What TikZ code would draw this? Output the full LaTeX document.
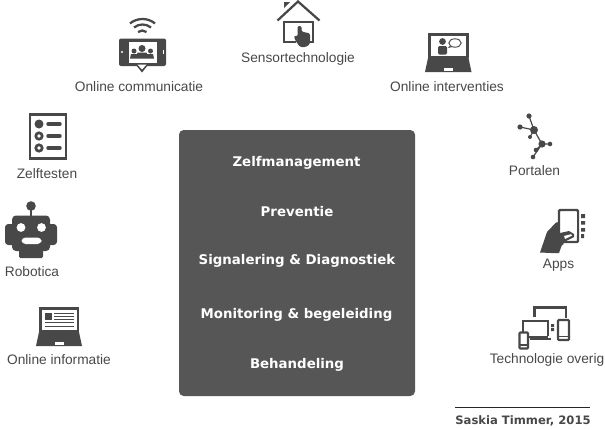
\documentclass[tikz,border=0pt]{standalone}
\usepackage{fontspec}
\setmainfont{Liberation Sans}
\newfontfamily\boldwide{DejaVu Sans Bold}
\definecolor{ink}{HTML}{484848}
\definecolor{boxc}{HTML}{565656}
\tikzset{
 lab/.style={font=\fontsize{10.3pt}{12pt}\selectfont,text=ink,inner sep=0pt,anchor=center},
 head/.style={font=\boldwide\fontsize{10pt}{12pt}\selectfont,text=white,inner sep=0pt,anchor=center},
 ln/.style={draw=ink,line width=1.7pt},
}
\begin{document}
\begin{tikzpicture}[x=0.75pt,y=-0.75pt]
\useasboundingbox (0,0) rectangle (605,429);
% central panel
\node[fill=boxc,rounded corners=3.5pt,minimum width=177pt,minimum height=199.5pt,inner sep=0pt] (panel) at (297,263) {};
\node[head] (h1) at (296.5,163) {Zelfmanagement};
\node[head] (h2) at (297,212) {Preventie};
\node[head] (h3) at (297,260.5) {Signalering \& Diagnostiek};
\node[head] (h4) at (296.5,315) {Monitoring \& begeleiding};
\node[head] (h5) at (297,365) {Behandeling};
% labels
\node[lab] (l1) at (139,86.5) {Online communicatie};
\node[lab] (l2) at (298,58.5) {Sensortechnologie};
\node[lab] (l3) at (447,87) {Online interventies};
\node[lab] (l4) at (47,174) {Zelftesten};
\node[lab] (l5) at (534.5,170.5) {Portalen};
\node[lab] (l6) at (32,272) {Robotica};
\node[lab] (l7) at (558.5,265.5) {Apps};
\node[lab] (l8) at (59,359.5) {Online informatie};
\node[lab] (l9) at (547,360) {Technologie overig};
% signature
\coordinate (s1) at (455,407.5);
\coordinate (s2) at (590,407.5);
\draw[draw=black!85,line width=1.1pt] (s1) -- (s2);
\node[font=\boldwide\fontsize{8.7pt}{10pt}\selectfont,text=ink,inner sep=0pt] (sig) at (523,420.5) {Saskia Timmer, 2015};
% online communicatie icon
\fill[ink,rounded corners=1.5pt] (119,38.5) rectangle (166,66);
\fill[ink] (136,65) -- (148,65) -- (142,72.5) -- cycle;
\fill[white] (129,41.5) rectangle (157,62.5);
\fill[white] (137.5,64.5) -- (146.5,64.5) -- (142,69.5) -- cycle;
\fill[white] (122,52) circle (1.2);
\fill[white] (163,50) rectangle (164,54);
\fill[ink] (142,48.5) circle (3.5) (134,51) circle (2.5) (150.5,51) circle (2.5);
\fill[ink] (130,58.5) -- (131,54) -- (137,54) -- (137.5,52.5) -- (146.5,52.5) -- (147,54) -- (153,54) -- (154,58.5) -- cycle;
\draw[ink,line width=1.7pt] (130,23.5) .. controls (137,17.5) and (148,17.5) .. (155,23.5);
\draw[ink,line width=1.7pt] (134,27.5) .. controls (139,23.5) and (146,23.5) .. (151,27.5);
\draw[ink,line width=1.7pt] (138,32) .. controls (140.5,30) and (144,30) .. (146.5,32);
% house icon
\fill[ink] (284,2) -- (290,2) -- (284,8) -- cycle;
\draw[ln] (277.5,20.5) -- (298,1.5) -- (319.5,20.5);
\draw[ink,line width=2.1pt] (296,42) -- (284,42) -- (284,22) -- (313,22) -- (313,42) -- (309,42);
\fill[ink,rounded corners=1pt] (297.5,26) -- (301.5,26) -- (301.5,31.5) -- (310,33.5) -- (310,44) -- (306,47) -- (300,47) -- (295,40) -- (294,35.5) -- (297.5,36.5) -- cycle;
% laptop interventies
\fill[ink] (428,33) rectangle (468.5,58);
\fill[white] (430.5,35.5) rectangle (466,56);
\fill[ink] (428,58) -- (468.5,58) -- (471.5,72) -- (425,72) -- cycle;
\fill[white] (444,67.5) rectangle (453,70.5);
\fill[ink] (442.5,41.5) circle (3.4);
\fill[ink,rounded corners=1pt] (438,46) rectangle (447,54.5);
\draw[ink,line width=0.7pt,fill=white] (455,43) ellipse (6.2 and 4.2);
\fill[ink] (449.5,46) -- (448,48) -- (452,47) -- cycle;
% portalen
\coordinate (p0) at (529,116); \coordinate (p1) at (520,127); \coordinate (p2) at (534,130);
\coordinate (p3) at (530,137); \coordinate (p4) at (542,144); \coordinate (p5) at (550,144);
\coordinate (p6) at (536,150); \coordinate (p7) at (533,157);
\draw[ink,line width=0.9pt] (p0)--(p2) (p1)--(p2) (p3)--(p2) (p2)--(p4) (p4)--(p5) (p4)--(p6) (p4)--(p7);
\fill[ink] (p0) circle (2.6) (p1) circle (2.6) (p2) circle (4) (p3) circle (2) (p4) circle (3.6) (p5) circle (2.3) (p6) circle (2.3) (p7) circle (2.3);
% zelftesten
\draw[ink,line width=1.9pt] (30,114.5) rectangle (66,158.5);
\fill[ink] (39,124) circle (4.5);
\draw[ink,line width=2pt] (39,136) circle (3.2) (39,148) circle (3.2);
\draw[ink,line width=2.6pt,line cap=round] (48,124) -- (60,124) (48,136) -- (60,136) (48,148) -- (60,148);
% robot
\draw[ink,line width=1.6pt] (31,208) -- (31,217);
\fill[ink] (31,206) circle (4.8);
\fill[ink,rounded corners=3pt] (12,215.5) rectangle (50,251);
\fill[ink,rounded corners=2.5pt] (5,224) rectangle (57,245);
\fill[ink,rounded corners=1pt] (19,250) rectangle (43,258);
\fill[white] (21,227.5) circle (4.4) (41.5,227.5) circle (4.4);
\fill[white,rounded corners=3pt] (21.5,237.5) rectangle (41.5,244);
% online informatie
\fill[ink] (39,307) rectangle (79,332);
\fill[white] (42,310) rectangle (76.5,329.5);
\fill[ink] (39,332) -- (79,332) -- (82,346) -- (36,346) -- cycle;
\fill[white] (54.5,342) rectangle (63.5,345);
\fill[ink] (45,312.5) rectangle (52,319.5);
\draw[ink,line width=0.6pt] (54,313) -- (74,313) (54,316) -- (74,316) (54,319) -- (74,319) (45,322.5) -- (74,322.5) (45,326) -- (74,326);
% apps
\fill[ink] (540,252.5) -- (547,232) -- (556,222.5) -- (559,222) -- (559,236) -- (568,233) -- (573,234) -- (573,237) -- (563,242) -- (559,253) -- (551,253) -- cycle;
\draw[ink,line width=1.8pt,rounded corners=0.8pt] (559,210) rectangle (578,242);
\fill[white] (560.5,211.5) rectangle (576.5,235);
\fill[white] (561,235) -- (571,232) -- (574,235) -- (563,241) -- cycle;
\fill[ink] (560,233) -- (569,231) -- (574,234) -- (574,237) -- (564,242) -- (563,245) -- (559,245) -- cycle;
\fill[white] (564,236) -- (571,234.2) -- (572,235.5) -- (565,239) -- cycle;
\fill[ink] (581,214) rectangle (585,218) (581,221) rectangle (585,224.5) (581,228) rectangle (585,231.5) (581,234) rectangle (584,238);
% technologie overig
\draw[ink,line width=1.7pt] (534.5,317) -- (534.5,307.5) -- (566,307.5) -- (566,318);
\draw[ink,line width=1.5pt] (548,337) -- (523,337) -- (523,320.5) -- (548,320.5) -- (548,336);
\draw[ink,line width=1.5pt] (530,339) -- (551,339);
\fill[ink] (551,324) rectangle (554,327) (551,328) rectangle (554,331);
\draw[ink,line width=1.6pt,rounded corners=0.6pt] (558,320) rectangle (569,340);
\draw[ink,line width=1.6pt,rounded corners=0.6pt,fill=white] (519.5,332.5) rectangle (528,348.5);
\draw[ink,line width=0.9pt] (558,336.5) -- (569,336.5) (519.5,345) -- (528,345);
\end{tikzpicture}
\end{document}
